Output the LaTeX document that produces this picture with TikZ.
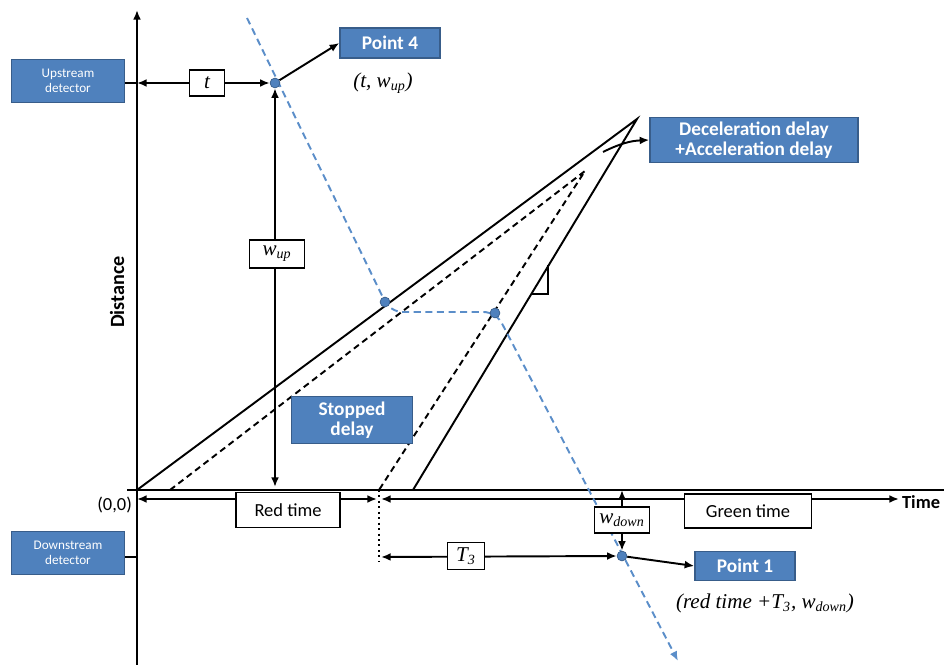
\documentclass[tikz,border=0pt]{standalone}
\usepackage{fontspec}
\setmainfont{Carlito}
\newfontfamily\timesfont{Liberation Serif}
\usetikzlibrary{arrows.meta}

\definecolor{boxblue}{HTML}{4F81BD}
\definecolor{boxedge}{HTML}{385D8A}
\definecolor{lineblue}{HTML}{5B8EC9}
\newcommand{\mv}[1]{{\timesfont\itshape #1}}

\begin{document}
\begin{tikzpicture}[
            x=0.02cm, y=-0.02cm,
            >={Latex[length=5.5pt,width=4.5pt]},
            axis/.style={line width=1.1pt},
            traj/.style={line width=1.1pt},
            trajdash/.style={line width=1.1pt, dash pattern=on 3.6pt off 2.4pt},
            waveline/.style={lineblue, line width=1.1pt, dash pattern=on 4pt off 2.6pt},
            bluebox/.style={draw=boxedge, line width=0.8pt, fill=boxblue, text=white,
                align=center, inner sep=1pt, font={\fontsize{11}{11.5}\selectfont\bfseries}},
            detbox/.style={bluebox, minimum width=2.26cm, minimum height=0.87cm,
                font={\fontsize{7.5}{8.5}\selectfont}},
            labelbox/.style={draw, line width=1.1pt, fill=white, inner sep=1pt,
                font={\fontsize{10.5}{12}\selectfont}},
            mathbox/.style={labelbox, font={\fontsize{12}{12}\selectfont}},
            pdot/.style={circle, fill=boxblue, draw=boxedge, inner sep=0pt, minimum size=5.6pt}
        ]
            \useasboundingbox (0,0) rectangle (944,665);

            % axes
            \coordinate (ybot) at (137,665);
            \coordinate (ytop) at (137,10);
            \coordinate (xleft) at (127,490);
            \coordinate (xright) at (944,490);
            \draw[axis,->] (ybot) -- (ytop);
            \draw[axis] (xleft) -- (xright);

            \coordinate (t0) at (137,499);
            \coordinate (tredend) at (377,499);
            \coordinate (tgreen) at (381,499);
            \coordinate (tend) at (899,499);
            \draw[axis,<->] (t0) -- (tredend);
            \draw[axis,<->] (tgreen) -- (tend);

            \node[anchor=west, inner sep=1pt, font={\fontsize{10.5}{10.5}\selectfont\bfseries}] (timelabel) at (900,502) {Time};
            \node[rotate=90, font={\fontsize{11.5}{11.5}\selectfont\bfseries}] (distlabel) at (117,292) {Distance};
            \node[anchor=east, inner sep=1pt, font={\fontsize{10.5}{10.5}\selectfont}] (origin) at (134,505) {(0,0)};

            \node[labelbox, minimum width=2.08cm, minimum height=0.7cm] (redtime) at (288,510) {Red time};
            \node[labelbox, minimum width=2.54cm, minimum height=0.68cm] (greentime) at (748,511) {Green time};

            % trajectories
            \coordinate (a0) at (137,490);
            \coordinate (a1) at (170,490);
            \coordinate (a2) at (379,490);
            \coordinate (a3) at (413,490);
            \coordinate (apex) at (637,119);
            \coordinate (dapex) at (585,171);
            \draw[traj] (a0) -- (apex) -- (a3);
            \draw[trajdash] (a1) -- (dapex) -- (a2);

            \coordinate (s1) at (532,294);
            \coordinate (s2) at (548,294);
            \coordinate (s3) at (548,265);
            \draw[line width=1.1pt] (s1) -- (s2) -- (s3);

            % detectors
            \node[detbox] (upstream) at (68,81) {Upstream\\detector};
            \node[detbox] (downstream) at (68,553) {Downstream\\detector};
            \coordinate (uptick) at (137,83);
            \coordinate (downtick) at (137,557);
            \draw[axis] (upstream.east |- uptick) -- (uptick);
            \draw[axis] (downstream.east |- downtick) -- (downtick);

            % shock wave
            \coordinate (w0) at (247,18);
            \coordinate (w1) at (390,312);
            \coordinate (w2) at (496,312);
            \coordinate (w3) at (678,661);
            \draw[waveline, rounded corners=7pt, ->] (w0) -- (w1) -- (w2) -- (w3);

            \node[pdot] (p4dot) at (275,83) {};
            \node[pdot] (q1dot) at (385,302) {};
            \node[pdot] (q2dot) at (495,313) {};
            \node[pdot] (p1dot) at (622,556) {};

            % point 4
            \draw[axis,<->] (uptick) -- (p4dot.west);
            \node[mathbox, minimum width=0.7cm, minimum height=0.52cm] (tbox) at (207,83) {\mv{t}};
            \node[bluebox, minimum width=2cm, minimum height=0.6cm] (point4) at (390,43) {Point 4};
            \draw[axis,->] (p4dot) -- (point4.west);
            \node[font={\fontsize{12}{12}\selectfont}] (p4coord) at (383,83) {\mv{(t, w\textsubscript{up})}};

            \coordinate (wupbot) at (275,487);
            \draw[axis,<->] (p4dot.south) -- (wupbot);
            \node[mathbox, minimum width=1.1cm, minimum height=0.56cm] (wupbox) at (277,254) {\mv{w\textsubscript{up}}};

            % delays
            \node[bluebox, minimum width=2.42cm, minimum height=0.94cm] (stopped) at (352,420) {Stopped\\delay};
            \node[bluebox, minimum width=4.16cm, minimum height=0.9cm] (decel) at (754,140) {Deceleration delay\\+Acceleration delay};
            \coordinate (decelfrom) at (603,152);
            \draw[axis,->] (decelfrom) to[bend left=12] (decel.west);

            % point 1
            \coordinate (dotbot) at (379,561);
            \draw[line width=1.1pt, dotted] (a2) -- (dotbot);
            \coordinate (t3left) at (381,557);
            \draw[axis,<->] (t3left) -- (p1dot.west);
            \node[mathbox, minimum width=0.74cm, minimum height=0.54cm] (t3box) at (466,556) {\mv{T\textsubscript{3}}};

            \coordinate (wdowntop) at (622,490);
            \draw[axis,<->] (wdowntop) -- (p1dot.north);
            \node[mathbox, minimum width=1.1cm, minimum height=0.52cm] (wdownbox) at (622,520) {\mv{w\textsubscript{down}}};

            \node[bluebox, minimum width=2cm, minimum height=0.58cm] (point1) at (745,566) {Point 1};
            \draw[axis,->] (p1dot) -- (point1.west);
            \node[font={\fontsize{12}{12}\selectfont}] (p1coord) at (765,603) {\mv{(red time +T\textsubscript{3}, w\textsubscript{down})}};
        \end{tikzpicture}
\end{document}
